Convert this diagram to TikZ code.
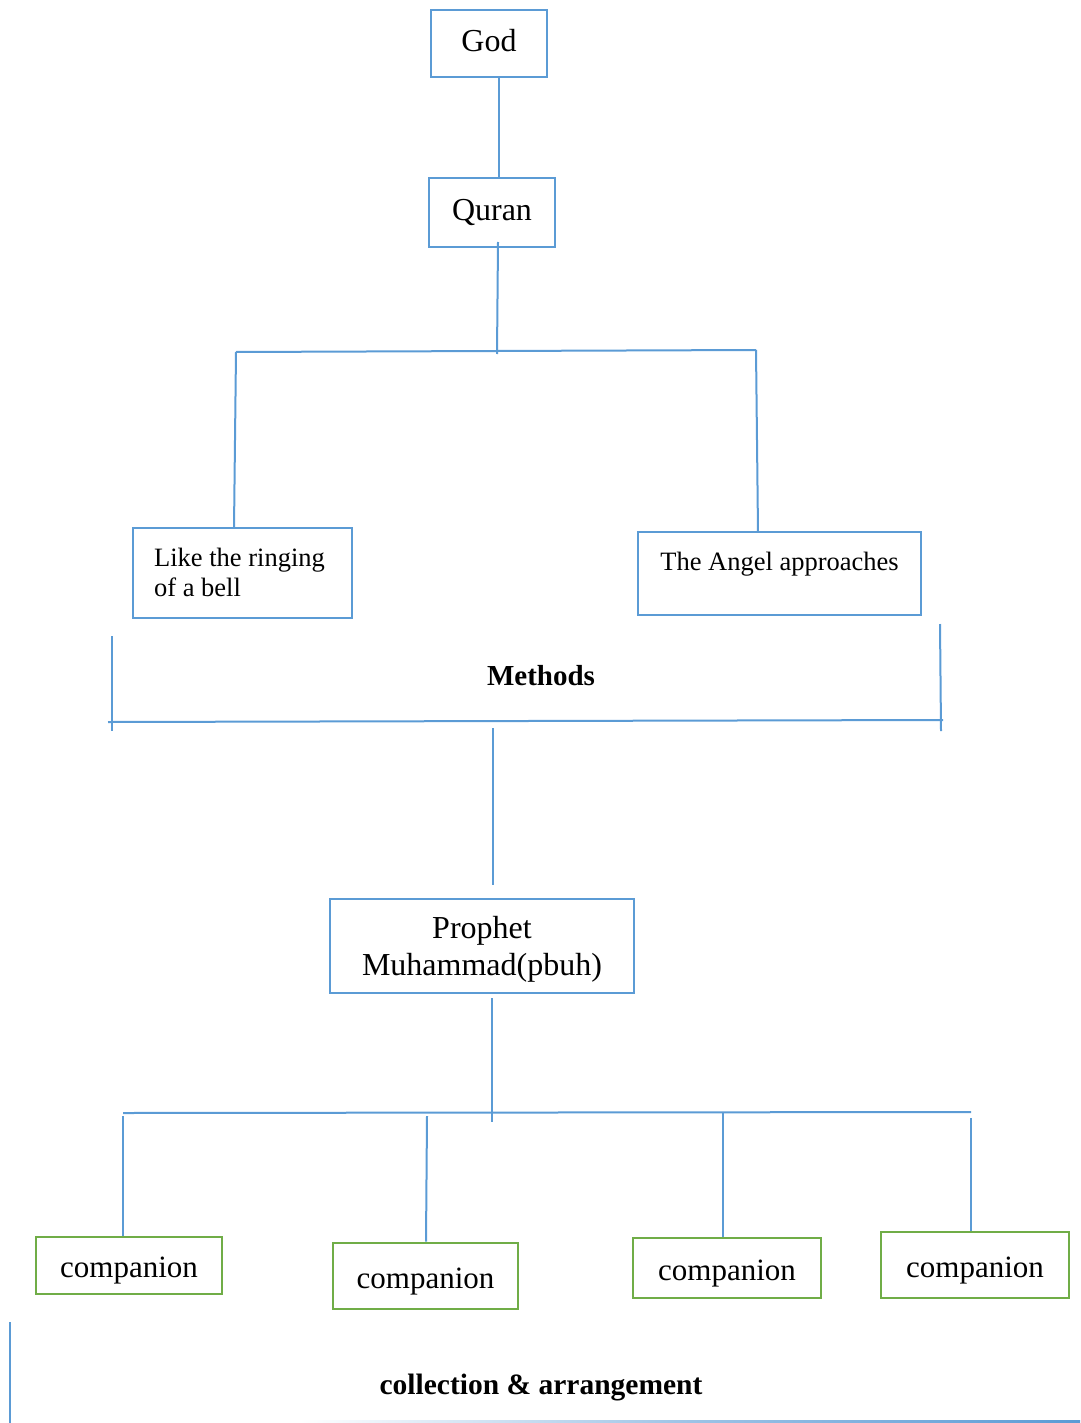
\documentclass[tikz,border=0pt]{standalone}
\usepackage{fontspec}
\setmainfont{Liberation Serif}
\definecolor{lblue}{HTML}{5B9BD5}
\definecolor{lgreen}{HTML}{70AD47}
\newcommand\lowered[2]{\raisebox{-#1}[\height][\depth]{#2}}
\begin{document}
\begin{tikzpicture}[x=1pt,y=-1pt,
  bbox/.style={draw=lblue,line width=2.7pt,inner sep=0pt,fill=white},
  gbox/.style={draw=lgreen,line width=2.7pt,inner sep=0pt,fill=white,
    font=\fontsize{31}{36}\selectfont},
  conn/.style={draw=lblue,line width=2pt}]
\useasboundingbox (0,0) rectangle (1080,1423);
% top boxes
\node[bbox,minimum width=116pt,minimum height=67pt,font=\fontsize{32}{37}\selectfont] (god) at (489,43.5) {\lowered{-3pt}{God}};
\node[bbox,minimum width=126pt,minimum height=69pt,font=\fontsize{32}{37}\selectfont] (quran) at (492,212.5) {Quran};
\coordinate (q1) at (499,77);
\coordinate (q2) at (499,178);
\draw[conn] (q1) -- (q2);
\coordinate (qs) at (498,242);
\coordinate (jm) at (497,354);
\coordinate (jl) at (236,352);
\coordinate (jr) at (756,350);
\draw[conn] (qs) -- (jm);
\draw[conn] (jl) -- (jr);
% methods boxes
\node[bbox,minimum width=219pt,minimum height=90pt,
  font=\fontsize{26.5}{30}\selectfont] (bell) at (242.5,573)
  {\hspace*{-6pt}\lowered{2pt}{\begin{tabular}{@{}l@{}}Like the ringing\\of a bell\end{tabular}}};
\node[bbox,minimum width=283pt,minimum height=83pt,
  font=\fontsize{26.5}{30}\selectfont] (angel) at (779.5,573.5)
  {\lowered{6pt}{\begin{tabular}{@{}c@{}}The Angel approaches\\\strut\end{tabular}}};
\coordinate (bl) at (234,528);
\coordinate (ar) at (758,532);
\draw[conn] (jl) -- (bl);
\draw[conn] (jr) -- (ar);
% methods bracket
\coordinate (ml1) at (112,636);
\coordinate (ml2) at (112,731);
\coordinate (mr1) at (940,624);
\coordinate (mr2) at (941,731);
\coordinate (mh1) at (108,722);
\coordinate (mh2) at (943,720);
\draw[conn] (ml1) -- (ml2);
\draw[conn] (mr1) -- (mr2);
\draw[conn] (mh1) -- (mh2);
\node[font=\fontsize{29}{34}\selectfont\bfseries] (methods) at (541,676) {Methods};
% prophet
\coordinate (p1) at (493,728);
\coordinate (p2) at (493,885);
\draw[conn] (p1) -- (p2);
\node[bbox,minimum width=304pt,minimum height=94pt,
  font=\fontsize{32}{37}\selectfont] (prophet) at (482,946)
  {\lowered{4pt}{\begin{tabular}{@{}c@{}}Prophet\\Muhammad(pbuh)\end{tabular}}};
\coordinate (pb) at (492,998);
\coordinate (pj) at (492,1122);
\draw[conn] (pb) -- (pj);
\coordinate (hl) at (123,1113);
\coordinate (hr) at (971,1112);
\draw[conn] (hl) -- (hr);
% companions
\node[gbox,minimum width=186pt,minimum height=57pt] (c1) at (129,1265.5) {\lowered{5pt}{companion}};
\node[gbox,minimum width=185pt,minimum height=66pt] (c2) at (425.5,1276) {\lowered{6pt}{companion}};
\node[gbox,minimum width=188pt,minimum height=60pt] (c3) at (727,1268) {\lowered{6pt}{companion}};
\node[gbox,minimum width=188pt,minimum height=66pt] (c4) at (975,1265) {\lowered{6pt}{companion}};
\coordinate (v1) at (123,1116);
\coordinate (v2) at (427,1116);
\coordinate (v3) at (723,1113);
\coordinate (v4) at (971,1118);
\draw[conn] (v1) -- (c1.north -| v1);
\draw[conn] (v2) -- ([xshift=-1pt]c2.north -| v2);
\draw[conn] (v3) -- (c3.north -| v3);
\draw[conn] (v4) -- (c4.north -| v4);
% bottom bracket
\coordinate (bl1) at (10,1322);
\coordinate (bl2) at (10,1423);
\draw[conn] (bl1) -- (bl2);
\shade[left color=white,right color=lblue,middle color=lblue!60] (300,1420) rectangle (1080,1422);
\node[font=\fontsize{29.5}{34}\selectfont\bfseries] (coll) at (541,1388) {collection \& arrangement};
\end{tikzpicture}
\end{document}
